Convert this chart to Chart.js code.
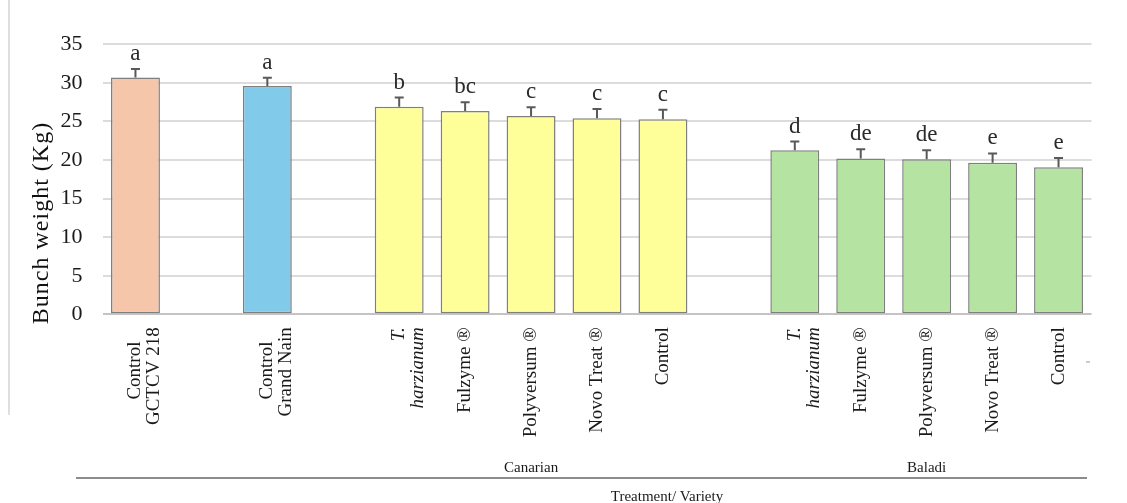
<!DOCTYPE html>
<html>
<head>
<meta charset="utf-8">
<title>Bunch weight by treatment and variety</title>
<script src="https://cdn.jsdelivr.net/npm/chart.js@4.4.1/dist/chart.umd.min.js"></script>
<style>
  html, body { margin: 0; padding: 0; background: #ffffff; }
  canvas { display: block; }
</style>
</head>
<body>
<canvas id="chart" width="1127" height="503"></canvas>
<script>
// Treatment / variety categories (blank entries separate the groups);
// trailing spaces keep the short first line centred under the longer one
const categories = [
  ['Control   ', 'GCTCV 218'], '',
  ['Control   ', 'Grand Nain'], '',
  ['T.', 'harzianum'], 'Fulzyme \u00AE', 'Polyversum \u00AE', 'Novo Treat \u00AE', 'Control', '',
  ['T.', 'harzianum'], 'Fulzyme \u00AE', 'Polyversum \u00AE', 'Novo Treat \u00AE', 'Control'
];
// Mean bunch weight (kg)
const bunchWeight = [30.7, null, 29.6, null, 26.9, 26.35, 25.7, 25.4, 25.3, null, 21.25, 20.2, 20.1, 19.65, 19.05];
// Standard error of each mean (kg)
const stdError = [1.1, null, 1.05, null, 1.2, 1.15, 1.15, 1.2, 1.2, null, 1.15, 1.2, 1.15, 1.2, 1.2];
// Mean separation letters
const significance = ['a', '', 'a', '', 'b', 'bc', 'c', 'c', 'c', '', 'd', 'de', 'de', 'e', 'e'];
// Italic species names
const italicLabel = [false, false, false, false, true, false, false, false, false, false, true, false, false, false, false];
// Varieties and the category range each spans
const varietyNames = ['Canarian', 'Baladi'];
const varietyFirst = [4, 10];
const varietyLast = [8, 14];
// Value axis ticks
const yTicks = [0, 5, 10, 15, 20, 25, 30, 35];

const barColors = [
  '#F5C6AA', null, '#82CAEA', null,
  '#FFFF99', '#FFFF99', '#FFFF99', '#FFFF99', '#FFFF99', null,
  '#B4E3A2', '#B4E3A2', '#B4E3A2', '#B4E3A2', '#B4E3A2'
];

const SERIF = "'Liberation Serif', 'Times New Roman', serif";

const decorations = {
  id: 'decorations',
  afterDatasetsDraw(chart) {
    const { ctx } = chart;
    const xs = chart.scales.x, ys = chart.scales.y;
    ctx.save();
    // error bars
    ctx.strokeStyle = '#595959';
    ctx.lineWidth = 2;
    bunchWeight.forEach((v, i) => {
      if (v === null) return;
      const x = xs.getPixelForValue(i);
      const y0 = ys.getPixelForValue(v);
      const y1 = ys.getPixelForValue(v + stdError[i]);
      ctx.beginPath();
      ctx.moveTo(x, y0);
      ctx.lineTo(x, y1);
      ctx.moveTo(x - 4.5, y1);
      ctx.lineTo(x + 4.5, y1);
      ctx.stroke();
      // significance letter
      ctx.fillStyle = '#2b2b2b';
      ctx.font = '23px ' + SERIF;
      ctx.textAlign = 'center';
      ctx.textBaseline = 'alphabetic';
      ctx.fillText(significance[i], x, y1 - 9);
    });
    ctx.restore();
  },
  afterDraw(chart) {
    const { ctx } = chart;
    const xs = chart.scales.x;
    ctx.save();
    // left frame line
    ctx.strokeStyle = '#d4d4d4';
    ctx.lineWidth = 1.5;
    ctx.beginPath();
    ctx.moveTo(9, 0);
    ctx.lineTo(9, 415);
    ctx.stroke();
    // small mark right of the axis labels
    ctx.strokeStyle = '#bdbdbd';
    ctx.beginPath();
    ctx.moveTo(1086, 362);
    ctx.lineTo(1090, 362);
    ctx.stroke();

    // value axis title
    ctx.fillStyle = '#111111';
    ctx.font = '24px ' + SERIF;
    ctx.letterSpacing = '1px';
    ctx.textAlign = 'center';
    ctx.textBaseline = 'alphabetic';
    ctx.translate(48, 223);
    ctx.rotate(-Math.PI / 2);
    ctx.fillText('Bunch weight (Kg)', 0, 0);
    ctx.setTransform(1, 0, 0, 1, 0, 0);
    ctx.letterSpacing = '0px';

    // variety names
    ctx.font = '15px ' + SERIF;
    ctx.fillStyle = '#1a1a1a';
    varietyNames.forEach((name, k) => {
      const xa = xs.getPixelForValue(varietyFirst[k]);
      const xb = xs.getPixelForValue(varietyLast[k]);
      ctx.fillText(name, (xa + xb) / 2, 472);
    });

    // separator line
    ctx.strokeStyle = '#8c8c8c';
    ctx.lineWidth = 2;
    ctx.beginPath();
    ctx.moveTo(76, 478);
    ctx.lineTo(1087, 478);
    ctx.stroke();

    // category axis title
    ctx.fillStyle = '#1a1a1a';
    ctx.font = '15px ' + SERIF;
    ctx.fillText('Treatment/ Variety', 667, 501);
    ctx.restore();
  }
};

new Chart(document.getElementById('chart'), {
  type: 'bar',
  data: {
    labels: categories,
    datasets: [{
      data: bunchWeight,
      backgroundColor: barColors,
      borderColor: '#7f7f7f',
      borderWidth: 1.5,
      borderSkipped: false,
      barPercentage: 0.742,
      categoryPercentage: 1.0
    }]
  },
  options: {
    responsive: false,
    devicePixelRatio: 1,
    animation: false,
    layout: { padding: { left: 0, right: 35.5, top: 44.3, bottom: 0 } },
    plugins: {
      legend: { display: false },
      tooltip: { enabled: false },
      title: { display: false }
    },
    scales: {
      x: {
        offset: true,
        grid: { display: false, drawTicks: false },
        border: { display: false },
        ticks: {
          autoSkip: false,
          minRotation: 90,
          maxRotation: 90,
          padding: 13,
          color: '#1a1a1a',
          font: (c) => ({
            family: SERIF,
            size: 19,
            lineHeight: 1.0,
            style: italicLabel[c.index] ? 'italic' : 'normal'
          })
        },
        afterFit(scale) { scale.height = 503 - 314.3; }
      },
      y: {
        min: 0,
        max: 35,
        afterBuildTicks(scale) { scale.ticks = yTicks.map(v => ({ value: v })); },
        grid: {
          color: (c) => (c.tick && c.tick.value === 0 ? '#c4c4c4' : '#dcdcdc'),
          lineWidth: 2,
          drawTicks: false
        },
        border: { display: false },
        ticks: {
          padding: 20,
          color: '#1a1a1a',
          font: { family: SERIF, size: 22 }
        },
        afterFit(scale) { scale.width = 102.5; }
      }
    }
  },
  plugins: [decorations]
});
</script>
</body>
</html>
